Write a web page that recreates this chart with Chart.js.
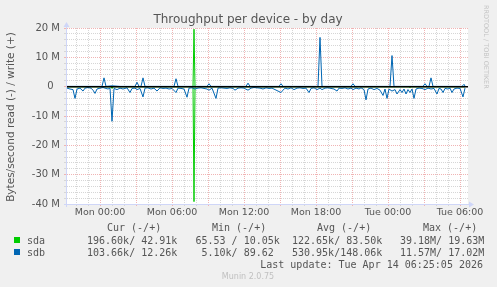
<!DOCTYPE html>
<html>
<head>
<meta charset="utf-8">
<script src="https://cdn.jsdelivr.net/npm/chart.js@4"></script>
<style>
  html, body { margin: 0; padding: 0; background: #f0f0f0; }
  #wrap { position: relative; width: 497px; height: 287px; }
</style>
</head>
<body>
<div id="wrap"><canvas id="chart" width="497" height="287"></canvas></div>
<script>
// time in minutes from Mon 00:00, values in MB/s (read negative, write positive)
const sdaReadTime = [-165, 55, 60, 65, 465, 470, 475, 1545, 1550, 1555, 1825];
const sdaReadVal  = [0, 0, -0.6, 0, 0, -39.2, 0, 0, -0.3, 0, 0];
const sdaWriteTime = [-165, 465, 470, 475, 1825];
const sdaWriteVal  = [0, 0, 19.6, 0, 0];

const sdbReadTime = [-165, -150, -135, -125, -115, -100, -85, -75, -60, -45, -35, -25, -15, 0, 15, 30, 40, 50, 60, 70,
  85, 100, 115, 135, 150, 160, 175, 185, 200, 215, 225, 240, 255, 270, 285, 300, 315, 330, 345, 360,
  380, 390, 405, 420, 435, 445, 460, 475, 490, 505, 520, 535, 545, 560, 580, 590, 605, 620, 635, 650,
  665, 675, 690, 705, 720, 740, 755, 770, 785, 800, 815, 830, 845, 860, 875, 890, 905, 915, 925, 940,
  955, 970, 985, 1000, 1015, 1030, 1045, 1055, 1070, 1085, 1100, 1110, 1125, 1140, 1155, 1170, 1185, 1195, 1210, 1225,
  1240, 1255, 1265, 1280, 1295, 1305, 1320, 1330, 1340, 1355, 1370, 1385, 1400, 1415, 1425, 1435, 1445, 1460, 1475, 1485,
  1500, 1510, 1520, 1530, 1540, 1550, 1560, 1570, 1580, 1595, 1610, 1625, 1640, 1655, 1670, 1685, 1695, 1705, 1715, 1725,
  1740, 1750, 1760, 1770, 1785, 1800, 1815, 1825];
const sdbReadVal = [-0.5, -0.8, -1.0, -4.0, -0.8, -0.5, -1.5, -0.5, -0.3, -0.5, -1.2, -2.3, -0.8, -0.5, -0.3, -0.6, -0.8, -0.5, -11.8, -0.6,
  -1.0, -0.5, -0.8, -0.4, -2.0, -0.6, -0.5, -1.0, -0.6, -3.5, -0.5, -0.4, -0.8, -0.5, -1.5, -0.4, -0.6, -0.5, -0.8, -0.6,
  -2.0, -0.5, -0.6, -0.8, -3.6, -0.5, -0.4, -0.8, -0.5, -0.4, -0.6, -0.8, -1.2, -0.5, -4.0, -0.5, -0.4, -0.5, -0.6, -0.4,
  -0.6, -1.2, -0.5, -0.4, -0.5, -1.2, -0.5, -0.3, -0.4, -0.5, -0.8, -0.4, -0.6, -0.5, -1.0, -1.5, -2.0, -1.2, -0.5, -0.8,
  -0.4, -1.0, -0.5, -0.4, -0.6, -0.5, -2.0, -0.6, -0.4, -1.0, -0.5, -1.0, -0.5, -0.4, -0.6, -0.8, -1.5, -0.5, -0.6, -0.4,
  -0.8, -0.5, -1.0, -0.5, -0.8, -0.4, -1.0, -4.5, -0.8, -0.5, -1.0, -0.6, -1.2, -3.0, -0.8, -4.0, -0.8, -1.5, -1.0, -2.5,
  -1.0, -2.0, -0.8, -2.5, -1.0, -2.0, -0.8, -4.0, -0.8, -0.5, -0.6, -1.0, -0.5, -0.8, -0.6, -2.5, -0.6, -0.8, -2.0, -0.6,
  -0.8, -0.5, -2.0, -0.8, -0.5, -0.6, -3.5, -0.5];
const sdbWriteTime = [-165, -125, -85, -25, 10, 20, 30, 60, 100, 175, 185, 195, 205, 215, 225, 370, 380, 390, 450, 535,
  545, 555, 730, 740, 750, 895, 905, 915, 1090, 1100, 1110, 1255, 1265, 1275, 1450, 1460, 1470, 1615, 1625, 1635,
  1645, 1655, 1665, 1810, 1820, 1825];
const sdbWriteVal = [0.1, 0.1, 0.1, 0.1, 0.1, 3.0, 0.1, 0.3, 0.1, 0.1, 1.5, 0.1, 0.1, 3.0, 0.1, 0.1, 2.7, 0.1, 0.1, 0.1,
  1.0, 0.1, 0.1, 1.2, 0.1, 0.1, 1.0, 0.1, 0.1, 16.8, 0.1, 0.1, 1.0, 0.1, 0.1, 10.6, 0.1, 0.1, 1.0, 0.1,
  0.1, 3.0, 0.1, 0.1, 0.8, 0.2];

const xTickMinutes = [0, 360, 720, 1080, 1440, 1800];
const xTickLabels = ['Mon 00:00', 'Mon 06:00', 'Mon 12:00', 'Mon 18:00', 'Tue 00:00', 'Tue 06:00'];
const yTickValues = [-40, -30, -20, -10, 0, 10, 20];
const yTickLabels = ['-40 M', '-30 M', '-20 M', '-10 M', '0  ', '10 M', '20 M'];

const legendHeaders = ['Cur (-/+)', 'Min (-/+)', 'Avg (-/+)', 'Max (-/+)'];
const legendNames = ['sda', 'sdb'];
const legendColors = ['#00CC00', '#0066B3'];
const legendCur = ['196.60k/ 42.91k', '103.66k/ 12.26k'];
const legendMin = ['65.53 / 10.05k', ' 5.10k/ 89.62 '];
const legendAvg = ['122.65k/ 83.50k', '530.95k/148.06k'];
const legendMax = ['39.18M/ 19.63M', '11.57M/ 17.02M'];

const pts = (t, v) => t.map((x, i) => ({ x: x, y: v[i] }));

const majorGrid = '#f0b4b4';
const minorGrid = '#d6d6d6';
const axisColor = '#CFD6F8';
const textColor = '#555555';

const muninPlugin = {
    id: 'munin',
    beforeDraw(chart) {
        const { ctx, chartArea: a } = chart;
        ctx.save();
        ctx.fillStyle = '#ffffff';
        ctx.fillRect(a.left, a.top, a.right - a.left, a.bottom - a.top);
        ctx.restore();
    },
    afterDatasetsDraw(chart) {
        const { ctx, chartArea: a, scales } = chart;
        const y0 = scales.y.getPixelForValue(0);
        ctx.save();
        // zero line
        ctx.strokeStyle = '#000000';
        ctx.lineWidth = 1.5;
        ctx.beginPath();
        ctx.moveTo(a.left, y0);
        ctx.lineTo(a.right, y0);
        ctx.stroke();
        // axes with arrows
        ctx.lineWidth = 1;
        ctx.strokeStyle = axisColor;
        ctx.fillStyle = axisColor;
        const bx = Math.round(a.left) - 0.5;
        const by = Math.round(a.bottom) + 0.5;
        ctx.beginPath();
        ctx.moveTo(a.left - 3, by);
        ctx.lineTo(a.right + 3, by);
        ctx.moveTo(bx, a.bottom + 3);
        ctx.lineTo(bx, a.top - 3);
        ctx.stroke();
        ctx.beginPath();
        ctx.moveTo(a.right + 1, by - 3);
        ctx.lineTo(a.right + 6, by);
        ctx.lineTo(a.right + 1, by + 3);
        ctx.closePath();
        ctx.fill();
        ctx.beginPath();
        ctx.moveTo(bx - 3, a.top - 1);
        ctx.lineTo(bx, a.top - 6);
        ctx.lineTo(bx + 3, a.top - 1);
        ctx.closePath();
        ctx.fill();
        ctx.restore();
    },
    afterDraw(chart) {
        const { ctx } = chart;
        ctx.save();
        // title
        ctx.fillStyle = textColor;
        ctx.font = '12px "DejaVu Sans"';
        ctx.textAlign = 'center';
        ctx.textBaseline = 'alphabetic';
        ctx.fillText('Throughput per device - by day', 248, 23);

        // y axis title
        ctx.save();
        ctx.translate(14, 117);
        ctx.rotate(-Math.PI / 2);
        ctx.font = '10.5px "DejaVu Sans"';
        ctx.fillText('Bytes/second read (-) / write (+)', 0, 0);
        ctx.restore();

        // rrdtool credit
        ctx.save();
        ctx.translate(484, 5);
        ctx.rotate(Math.PI / 2);
        ctx.fillStyle = '#c4c4c4';
        ctx.font = '6.5px "DejaVu Sans"';
        ctx.textAlign = 'left';
        ctx.fillText('RRDTOOL / TOBI OETIKER', 0, 0);
        ctx.restore();

        // legend
        ctx.font = '10px "DejaVu Sans Mono"';
        ctx.textAlign = 'left';
        ctx.fillStyle = textColor;
        const headX = [107, 212, 317, 423];
        legendHeaders.forEach((h, i) => ctx.fillText(h, headX[i], 231));
        legendNames.forEach((name, i) => {
            const y = 244 + i * 12;
            ctx.fillStyle = legendColors[i];
            ctx.fillRect(14, y - 7, 6, 6);
            ctx.fillStyle = textColor;
            ctx.fillText(name, 27, y);
            ctx.fillText(legendCur[i], 87, y);
            ctx.fillText(legendMin[i], 195.5, y);
            ctx.fillText(legendAvg[i], 292, y);
            ctx.fillText(legendMax[i], 400, y);
        });
        ctx.textAlign = 'right';
        ctx.fillText('Last update: Tue Apr 14 06:25:05 2026', 483, 268);

        ctx.textAlign = 'center';
        ctx.fillStyle = '#c0c0c0';
        ctx.font = '8px "DejaVu Sans"';
        ctx.fillText('Munin 2.0.75', 248, 279);
        ctx.restore();
    }
};

Chart.defaults.font.family = '"DejaVu Sans"';

new Chart(document.getElementById('chart'), {
    type: 'line',
    data: {
        datasets: [
            { label: 'sdb read', data: pts(sdbReadTime, sdbReadVal), borderColor: legendColors[1] },
            { label: 'sdb write', data: pts(sdbWriteTime, sdbWriteVal), borderColor: legendColors[1] },
            { label: 'sda read', data: pts(sdaReadTime, sdaReadVal), borderColor: legendColors[0] },
            { label: 'sda write', data: pts(sdaWriteTime, sdaWriteVal), borderColor: legendColors[0] }
        ]
    },
    options: {
        responsive: false,
        animation: false,
        parsing: false,
        elements: {
            line: { borderWidth: 1, tension: 0, fill: false },
            point: { radius: 0, hoverRadius: 0 }
        },
        layout: { padding: { left: 0, top: 28, right: 29, bottom: 65 } },
        plugins: { legend: { display: false }, tooltip: { enabled: false }, title: { display: false } },
        scales: {
            x: {
                type: 'linear',
                min: -165,
                max: 1840,
                afterBuildTicks: axis => { axis.ticks = axis.ticks.filter(t => t.value % 60 === 0); },
                afterFit: scale => { scale.height = 18; },
                border: { display: false, dash: [1, 1] },
                grid: {
                    color: c => (c.tick && c.tick.value % 180 === 0) ? majorGrid : minorGrid,
                    tickLength: 2
                },
                ticks: {
                    stepSize: 60,
                    includeBounds: false,
                    autoSkip: false,
                    maxRotation: 0,
                    padding: 1,
                    color: textColor,
                    font: { size: 9.5 },
                    callback: v => {
                        const i = xTickMinutes.indexOf(v);
                        return i >= 0 ? xTickLabels[i] : '';
                    }
                }
            },
            y: {
                min: -40,
                max: 20,
                afterFit: scale => { scale.width = 67; },
                border: { display: false, dash: [1, 1] },
                grid: {
                    color: c => (c.tick && c.tick.value % 10 === 0) ? majorGrid : minorGrid,
                    tickLength: 3
                },
                ticks: {
                    stepSize: 2,
                    autoSkip: false,
                    padding: 4,
                    color: textColor,
                    font: { size: 10 },
                    callback: v => {
                        const i = yTickValues.indexOf(v);
                        return i >= 0 ? yTickLabels[i] : '';
                    }
                }
            }
        }
    },
    plugins: [muninPlugin]
});
</script>
</body>
</html>
